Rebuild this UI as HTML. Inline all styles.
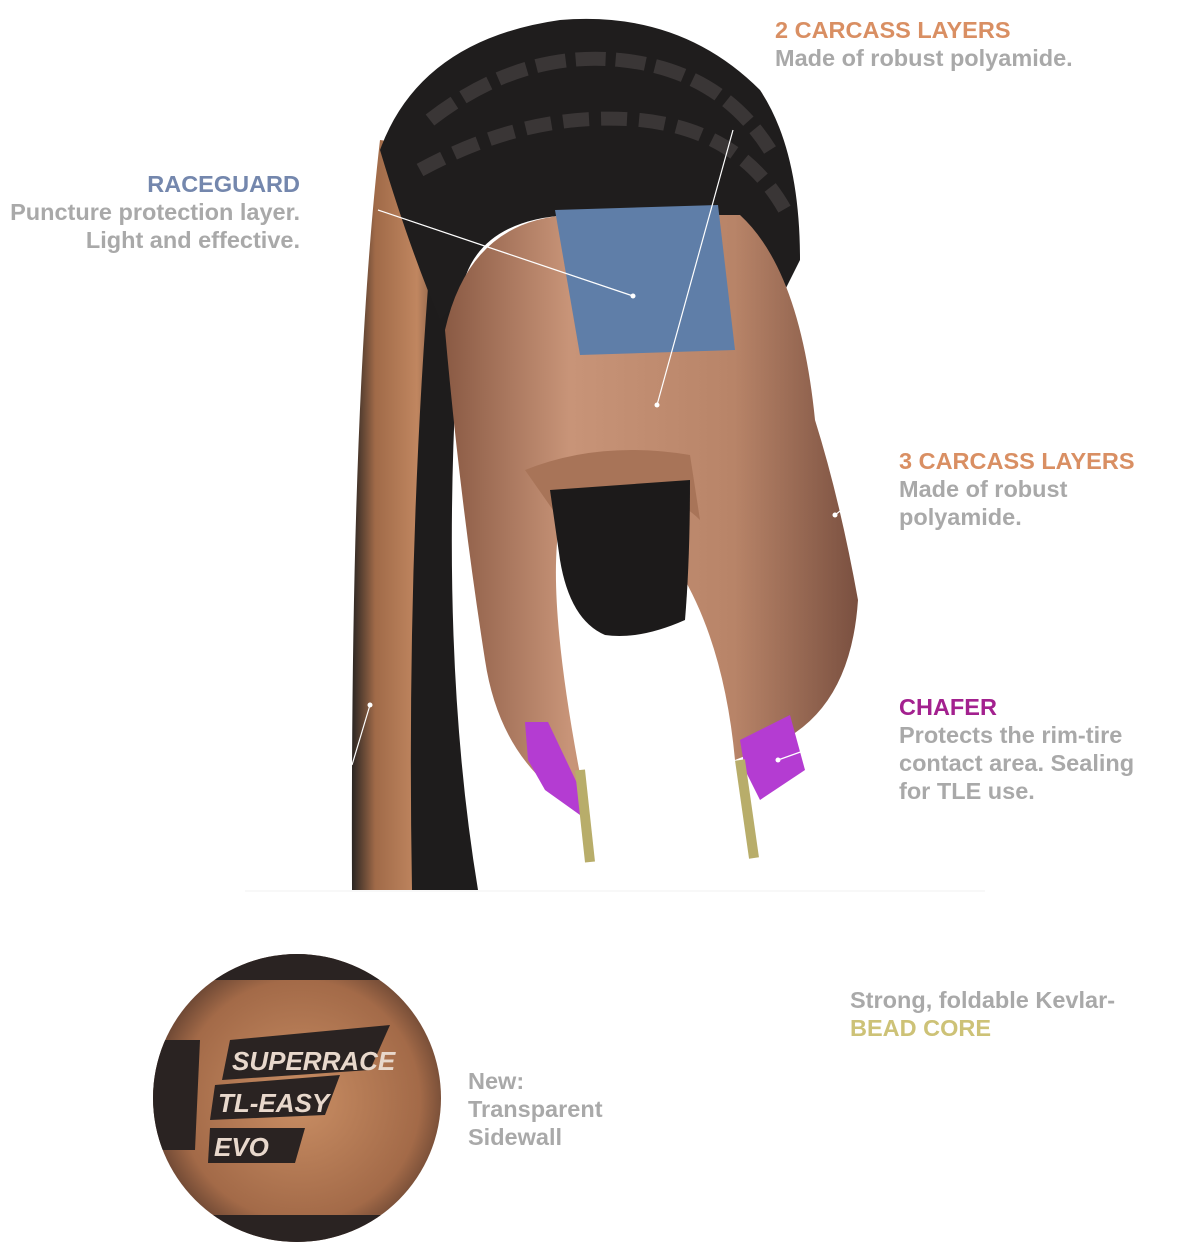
<!DOCTYPE html>
<html><head><meta charset="utf-8"><style>
html,body{margin:0;padding:0;background:#fff;}
body{width:1200px;height:1248px;position:relative;overflow:hidden;font-family:"Liberation Sans",sans-serif;}
.t{position:absolute;font-size:23.5px;font-weight:bold;line-height:28px;color:#a9a9a9;white-space:nowrap;}
.h{display:block;}
</style></head><body>
<svg width="1200" height="1248" style="position:absolute;left:0;top:0">
<defs>
<linearGradient id="side" x1="0" x2="1"><stop offset="0" stop-color="#2a2522"/><stop offset="0.25" stop-color="#a06a48"/><stop offset="0.7" stop-color="#c08660"/><stop offset="1" stop-color="#6a4a3a"/></linearGradient>
<linearGradient id="cop" x1="0" x2="1"><stop offset="0" stop-color="#8a5a44"/><stop offset="0.3" stop-color="#c89478"/><stop offset="0.7" stop-color="#b88468"/><stop offset="1" stop-color="#7a5040"/></linearGradient>
<radialGradient id="circ" cx="0.5" cy="0.5" r="0.5"><stop offset="0" stop-color="#c98e64"/><stop offset="0.8" stop-color="#a36a48"/><stop offset="1" stop-color="#6b4633"/></radialGradient>
<clipPath id="cc"><circle cx="297" cy="1098" r="144"/></clipPath>
</defs>
<!-- left sidewall -->
<path d="M380 140 Q350 400 352 890 L415 890 Q405 500 445 150 Z" fill="url(#side)"/>
<path d="M440 150 Q405 500 412 890 L478 890 Q430 600 470 200 Z" fill="#1e1c1c"/>
<!-- tread -->
<path d="M380 150 Q420 40 560 20 Q680 10 760 90 Q800 150 800 260 L780 300 Q700 210 570 215 Q470 220 460 300 L440 320 Q410 250 380 150 Z" fill="#1f1d1d"/>
<path d="M430 120 Q520 50 620 60 Q720 70 770 150" stroke="#3a3636" stroke-width="14" fill="none" stroke-dasharray="30 10"/>
<path d="M420 170 Q530 110 640 120 Q740 130 785 210" stroke="#3a3636" stroke-width="14" fill="none" stroke-dasharray="26 12"/>
<!-- carcass -->
<path d="M445 330 Q470 220 570 215 L740 215 Q800 270 815 420 Q840 500 858 600 Q850 720 760 750 L735 760 Q720 600 640 520 L560 520 Q545 600 585 800 L575 805 Q500 760 485 660 Q460 500 445 330 Z" fill="url(#cop)"/>
<path d="M525 470 Q600 440 690 455 L700 520 Q650 470 560 520 Z" fill="#a87458"/>
<path d="M550 490 L690 480 Q690 560 685 620 Q640 640 605 635 Q570 620 560 560 Z" fill="#1c1a1a"/>
<!-- blue patch -->
<path d="M555 210 L718 205 L735 350 L580 355 Z" fill="#5f7ea8"/>
<!-- chafers -->
<path d="M525 722 L548 722 L585 800 L580 815 L545 790 L528 760 Z" fill="#b43cd2"/>
<path d="M790 715 L805 770 L760 800 L745 770 L740 740 Z" fill="#b43cd2"/>
<!-- bead rods -->
<line x1="580" y1="770" x2="590" y2="862" stroke="#b8ad6a" stroke-width="10"/>
<line x1="740" y1="760" x2="754" y2="858" stroke="#b8ad6a" stroke-width="10"/>
<!-- leader lines -->
<g stroke="#fff" stroke-width="1.2" fill="none">
<line x1="378" y1="210" x2="633" y2="296"/>
<line x1="733" y1="130" x2="657" y2="405"/>
<line x1="880" y1="480" x2="835" y2="515"/>
<line x1="820" y1="745" x2="778" y2="760"/>
<line x1="370" y1="705" x2="352" y2="765"/>
</g>
<g fill="#fff"><circle cx="633" cy="296" r="2.5"/><circle cx="657" cy="405" r="2.5"/><circle cx="835" cy="515" r="2.5"/><circle cx="778" cy="760" r="2.5"/><circle cx="370" cy="705" r="2.5"/></g>
<line x1="245" y1="891" x2="985" y2="891" stroke="#f0f0f0" stroke-width="1"/>
<!-- circle -->
<g clip-path="url(#cc)">
<rect x="150" y="950" width="300" height="300" fill="url(#circ)"/>
<rect x="150" y="950" width="300" height="30" fill="#2a2322"/>
<rect x="150" y="1215" width="300" height="40" fill="#2a2322"/>
<path d="M150 1040 L200 1040 L195 1150 L150 1150 Z" fill="#2a2322"/>
<path d="M230 1040 L390 1025 L370 1070 L222 1080 Z" fill="#2a2322"/>
<path d="M215 1085 L340 1075 L325 1115 L210 1120 Z" fill="#2a2322"/>
<path d="M210 1128 L305 1128 L295 1163 L208 1163 Z" fill="#2a2322"/>
<text x="232" y="1070" font-family="Liberation Sans" font-weight="bold" font-style="italic" font-size="26" fill="#e8d8cc">SUPERRACE</text>
<text x="218" y="1112" font-family="Liberation Sans" font-weight="bold" font-style="italic" font-size="26" fill="#e8d8cc">TL-EASY</text>
<text x="214" y="1156" font-family="Liberation Sans" font-weight="bold" font-style="italic" font-size="26" fill="#e8d8cc">EVO</text>
</g>
</svg>
<div class="t" style="left:775px;top:16px;"><span class="h" style="color:#d98f63">2 CARCASS LAYERS</span>Made of robust polyamide.</div>
<div class="t" style="right:900px;top:170px;text-align:right;"><span class="h" style="color:#7487ad">RACEGUARD</span>Puncture protection layer.<br>Light and effective.</div>
<div class="t" style="left:899px;top:447px;"><span class="h" style="color:#d98f63">3 CARCASS LAYERS</span>Made of robust<br>polyamide.</div>
<div class="t" style="left:899px;top:693px;"><span class="h" style="color:#a3218f">CHAFER</span>Protects the rim-tire<br>contact area. Sealing<br>for TLE use.</div>
<div class="t" style="left:850px;top:986px;">Strong, foldable Kevlar-<span class="h" style="color:#cdc277">BEAD CORE</span></div>
<div class="t" style="left:468px;top:1067px;">New:<br>Transparent<br>Sidewall</div>
</body></html>
